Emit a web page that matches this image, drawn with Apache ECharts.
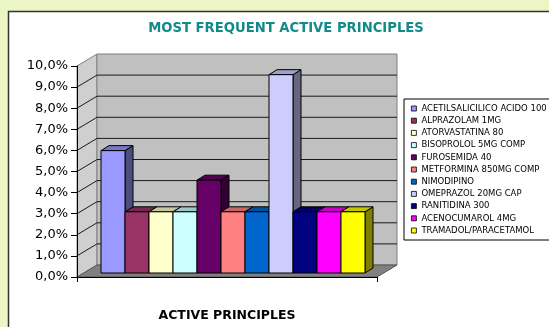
<!DOCTYPE html>
<html><head><meta charset="utf-8">
<script src="https://cdn.jsdelivr.net/npm/echarts@6/dist/echarts.min.js"></script>
<style>html,body{margin:0;padding:0;background:#ecf5c6}#c{width:549px;height:327px}</style>
</head><body><div id="c"></div>
<script>
const categories = ['ACTIVE PRINCIPLES'];
const seriesNames = ['ACETILSALICILICO ACIDO 100','ALPRAZOLAM 1MG','ATORVASTATINA 80','BISOPROLOL 5MG COMP','FUROSEMIDA 40','METFORMINA 850MG COMP','NIMODIPINO','OMEPRAZOL 20MG CAP','RANITIDINA 300','ACENOCUMAROL 4MG','TRAMADOL/PARACETAMOL'];
const seriesValues = [5.8, 2.9, 2.9, 2.9, 4.4, 2.9, 2.9, 9.4, 2.9, 2.9, 2.9];
const seriesColors = ['#9999FF','#993366','#FFFFCC','#CCFFFF','#660066','#FF8080','#0066CC','#CCCCFF','#000080','#FF00FF','#FFFF00'];
const yTickValues = [0,1,2,3,4,5,6,7,8,9,10];
const yTickLabels = ['0,0%','1,0%','2,0%','3,0%','4,0%','5,0%','6,0%','7,0%','8,0%','9,0%','10,0%'];
const titleText = 'MOST FREQUENT ACTIVE PRINCIPLES';

const WDX = 20, WDY = -12;   // wall depth
const FX = 6, FY = -4;       // bar front offset from front plane
const BDX = 8, BDY = -5;     // bar depth
const GAP = 0.12;

function shade(hex, f){
  const n = parseInt(hex.slice(1),16);
  const r = Math.round(((n>>16)&255)*f), g = Math.round(((n>>8)&255)*f), b = Math.round((n&255)*f);
  return 'rgb('+r+','+g+','+b+')';
}

function renderWalls(params, api){
  const cs = params.coordSys;
  const x0 = cs.x, x1 = cs.x + cs.width;
  const yb = api.coord([0, 0])[1], yt = api.coord([0, 10])[1];
  const ch = [];
  ch.push({type:'polygon', shape:{points:[[x0,yt],[x0+WDX,yt+WDY],[x0+WDX,yb+WDY],[x0,yb]]}, style:{fill:'#cfcfcf', stroke:'#808080', lineWidth:1}});
  ch.push({type:'rect', shape:{x:x0+WDX, y:yt+WDY, width:cs.width, height:yb-yt}, style:{fill:'#c0c0c0', stroke:'#808080', lineWidth:1}});
  ch.push({type:'polygon', shape:{points:[[x0,yb],[x0+WDX,yb+WDY],[x1+WDX,yb+WDY],[x1,yb]]}, style:{fill:'#808080', stroke:'#555', lineWidth:1}});
  yTickValues.forEach(v => {
    if (v === 0 || v === 10) return;
    const y = api.coord([0, v])[1];
    ch.push({type:'polyline', shape:{points:[[x0,y],[x0+WDX,y+WDY],[x1+WDX,y+WDY]]}, style:{fill:null, stroke:'#1a1a1a', lineWidth:1}});
  });
  return {type:'group', children: ch};
}

function makeBarRenderer(i){
  return function(params, api){
    const band = api.size([1, 0])[0];
    const c = api.coord([api.value(0), api.value(1)]);
    const base = api.coord([api.value(0), 0]);
    const groupW = band * (1 - GAP);
    const bw = groupW / seriesNames.length;
    const xl = c[0] - groupW/2 + bw*i + FX;
    const yTop = c[1] + FY, yBase = base[1] + FY;
    const col = seriesColors[i];
    const st = {stroke:'#000', lineWidth:1, lineJoin:'round'};
    return {type:'group', children:[
      {type:'polygon', shape:{points:[[xl+bw,yTop],[xl+bw+BDX,yTop+BDY],[xl+bw+BDX,yBase+BDY],[xl+bw,yBase]]}, style:Object.assign({fill:shade(col,0.5)}, st)},
      {type:'polygon', shape:{points:[[xl,yTop],[xl+BDX,yTop+BDY],[xl+bw+BDX,yTop+BDY],[xl+bw,yTop]]}, style:Object.assign({fill:shade(col,0.78)}, st)},
      {type:'rect', shape:{x:xl, y:yTop, width:bw, height:yBase-yTop}, style:Object.assign({fill:col}, st)}
    ]};
  };
}

const series = [{
  type:'custom', name:'_walls', renderItem: renderWalls, data:[[0,0]], z:1, silent:true
}];
seriesNames.forEach((name, i) => {
  series.push({
    type:'custom', name:name, renderItem: makeBarRenderer(i),
    itemStyle:{color: seriesColors[i]},
    data:[[0, seriesValues[i]]], z: 2 + i*0.01
  });
});

const chart = echarts.init(document.getElementById('c'));
chart.setOption({
  backgroundColor:'#ecf5c6',
  animation:false,
  graphic:{elements:[{type:'rect', z:-10, silent:true, shape:{x:8.5, y:11.5, width:600, height:400}, style:{fill:'#fff', stroke:'#333', lineWidth:1.5}}]},
  title:{text:titleText, left:286, top:22, padding:0, textAlign:'center',
    textStyle:{fontFamily:'DejaVu Sans', fontSize:13.2, fontWeight:'bold', color:'#138a8a'}},
  legend:{
    data: seriesNames, orient:'vertical', left:404, top:99, padding:[4,4,4,7],
    icon:'rect', itemWidth:5, itemHeight:5, itemGap:1.2,
    backgroundColor:'#fff', borderColor:'#000', borderWidth:1, borderRadius:0,
    itemStyle:{borderColor:'#000', borderWidth:0.8},
    textStyle:{fontFamily:'DejaVu Sans', fontSize:8.5, color:'#000', lineHeight:11}
  },
  grid:{left:77, top:66, width:300, height:214, containLabel:false},
  xAxis:{type:'category', data:categories, z:10,
    axisLine:{show:true, lineStyle:{color:'#000', width:1}},
    axisTick:{show:true, length:5, lineStyle:{color:'#000'}},
    axisLabel:{show:false},
    name:categories[0], nameLocation:'middle', nameGap:32,
    nameTextStyle:{fontFamily:'DejaVu Sans', fontSize:12.5, fontWeight:'bold', color:'#000'}
  },
  yAxis:{type:'value', min:0, max:10, interval:1, z:10,
    axisLine:{show:true, lineStyle:{color:'#000', width:1}},
    axisTick:{show:true, length:6, lineStyle:{color:'#000'}},
    splitLine:{show:false},
    axisLabel:{margin:9, color:'#000', fontFamily:'DejaVu Sans', fontSize:13,
      formatter:(v)=> yTickLabels[yTickValues.indexOf(v)]}
  },
  series: series
});
</script></body></html>
